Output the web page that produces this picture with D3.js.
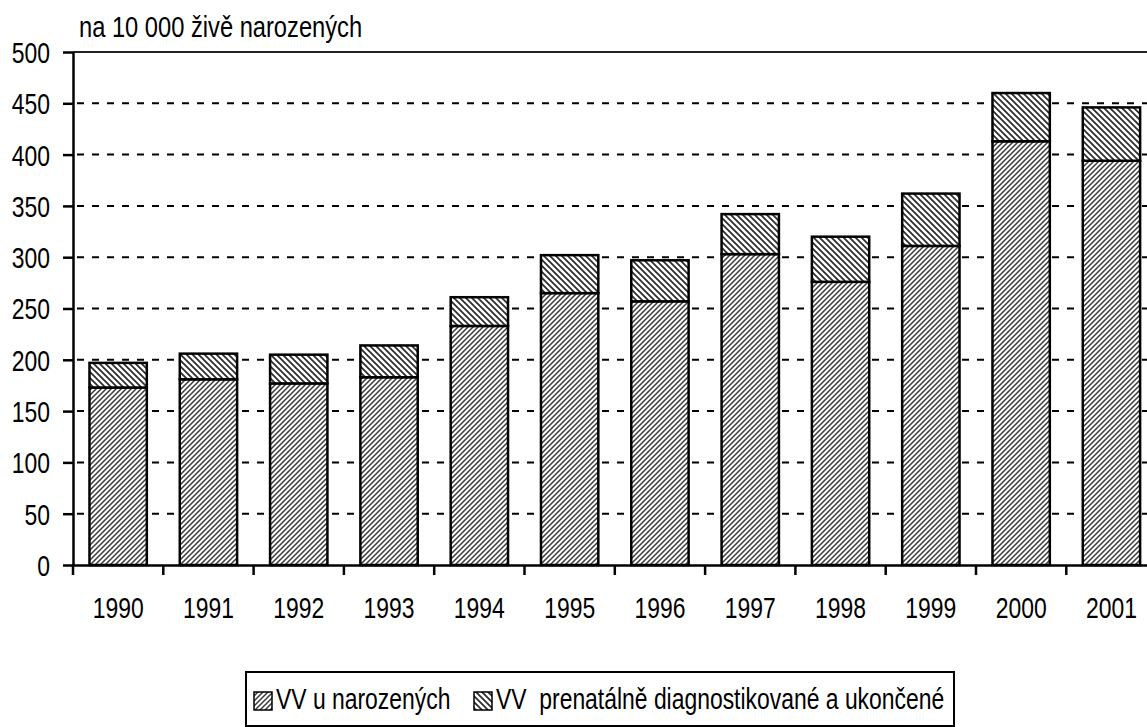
<!DOCTYPE html>
<html>
<head>
<meta charset="utf-8">
<script src="https://cdn.jsdelivr.net/npm/d3@7"></script>
<style>
  body { margin: 0; background: #fff; }
  svg { display: block; }
  text { font-family: "Liberation Sans", Arial, sans-serif; fill: #000; }
</style>
</head>
<body>
<div id="chart"></div>
<script>
// data
var years = ["1990", "1991", "1992", "1993", "1994", "1995", "1996", "1997", "1998", "1999", "2000", "2001"];
var bornValues = [173, 181, 177, 183, 233, 265, 257, 303, 276, 311, 413, 394];
var prenatalValues = [24, 25, 28, 31, 28, 37, 40, 39, 44, 51, 47, 52];
var yTicks = [0, 50, 100, 150, 200, 250, 300, 350, 400, 450, 500];
var seriesNames = ["VV u narozených", "VV  prenatálně diagnostikované a ukončené"];
var unitLabel = "na 10 000 živě narozených";

var width = 1147, height = 727;
var fontSize = 29, sx = 0.79;   // text in the original is horizontally squeezed

var svg = d3.select("#chart")
    .append("svg")
    .attr("width", width)
    .attr("height", height);

// hatch patterns
var defs = svg.append("defs");
var pLow = defs.append("pattern")
    .attr("id", "hatchLow")
    .attr("patternUnits", "userSpaceOnUse")
    .attr("width", 5)
    .attr("height", 5);
pLow.append("rect").attr("width", 5).attr("height", 5).attr("fill", "#fff");
pLow.append("path")
    .attr("d", "M-1,1 l2,-2 M0,5 l5,-5 M4,6 l2,-2")
    .attr("stroke", "#3a3a3a")
    .attr("stroke-width", 1.5);

var pHigh = defs.append("pattern")
    .attr("id", "hatchHigh")
    .attr("patternUnits", "userSpaceOnUse")
    .attr("width", 6)
    .attr("height", 6);
pHigh.append("rect").attr("width", 6).attr("height", 6).attr("fill", "#fff");
pHigh.append("path")
    .attr("d", "M0,0 l6,6 M-1,5 l2,2 M5,-1 l2,2")
    .attr("stroke", "#2a2a2a")
    .attr("stroke-width", 1.7);

var plotLeft = 73, plotBottom = 565, plotTop = 52;
var step = 90.3;

var x = d3.scaleBand()
    .domain(years)
    .range([plotLeft, plotLeft + step * years.length])
    .paddingInner(0.365)
    .paddingOuter(0.1825);

var y = d3.scaleLinear()
    .domain([0, 500])
    .range([plotBottom, plotTop]);

// gridlines
svg.append("g")
    .selectAll("line")
    .data(yTicks.filter(function (d) { return d > 0 && d < 500; }))
    .enter()
    .append("line")
    .attr("x1", plotLeft + 4)
    .attr("x2", width)
    .attr("y1", function (d) { return y(d); })
    .attr("y2", function (d) { return y(d); })
    .attr("stroke", "#000")
    .attr("stroke-width", 2)
    .attr("stroke-dasharray", "7,8");

// top border of plot area
svg.append("line")
    .attr("x1", plotLeft)
    .attr("x2", width)
    .attr("y1", y(500))
    .attr("y2", y(500))
    .attr("stroke", "#222")
    .attr("stroke-width", 2);

// stacked bars
var rows = years.map(function (yr, i) {
    return {year: yr, low: bornValues[i], high: prenatalValues[i]};
});

var bars = svg.append("g").selectAll("g")
    .data(rows)
    .enter()
    .append("g");

bars.append("rect")
    .attr("x", function (d) { return x(d.year); })
    .attr("width", x.bandwidth())
    .attr("y", function (d) { return y(d.low); })
    .attr("height", function (d) { return y(0) - y(d.low); })
    .attr("fill", "url(#hatchLow)")
    .attr("stroke", "#000")
    .attr("stroke-width", 2.5);

bars.append("rect")
    .attr("x", function (d) { return x(d.year); })
    .attr("width", x.bandwidth())
    .attr("y", function (d) { return y(d.low + d.high); })
    .attr("height", function (d) { return y(d.low) - y(d.low + d.high); })
    .attr("fill", "url(#hatchHigh)")
    .attr("stroke", "#000")
    .attr("stroke-width", 2.5);

// y axis
var yAxis = d3.axisLeft(y)
    .tickValues(yTicks)
    .tickSize(10)
    .tickSizeOuter(0);

var gy = svg.append("g")
    .attr("transform", "translate(" + plotLeft + ",0)")
    .call(yAxis);
gy.select(".domain").attr("stroke", "#000").attr("stroke-width", 2.5);
gy.selectAll(".tick line").attr("stroke", "#000").attr("stroke-width", 2.5);
gy.selectAll(".tick text")
    .attr("x", -23 / sx)
    .attr("dy", "0.36em")
    .attr("transform", "scale(" + sx + ",1)")
    .style("font-size", fontSize + "px")
    .style("font-family", "'Liberation Sans', Arial, sans-serif");

// x axis (labels centred on bars, ticks between them)
var xAxis = d3.axisBottom(x)
    .tickSize(0)
    .tickSizeOuter(0);

var gx = svg.append("g")
    .attr("transform", "translate(0," + plotBottom + ")")
    .call(xAxis);
gx.select(".domain").attr("stroke", "#000").attr("stroke-width", 2.5);
gx.selectAll(".tick text")
    .attr("y", 53)
    .attr("dy", 0)
    .attr("transform", "scale(" + sx + ",1)")
    .style("font-size", fontSize + "px")
    .style("font-family", "'Liberation Sans', Arial, sans-serif");

var sepX = years.map(function (yr) { return x(yr) - x.step() * x.paddingOuter(); });
gx.selectAll(".sep")
    .data(sepX)
    .enter()
    .append("line")
    .attr("class", "sep")
    .attr("x1", function (d) { return d; })
    .attr("x2", function (d) { return d; })
    .attr("y1", 0)
    .attr("y2", 10)
    .attr("stroke", "#000")
    .attr("stroke-width", 2.5);

// unit label
svg.append("text")
    .attr("transform", "translate(79,37) scale(" + sx + ",1)")
    .style("font-size", "30px")
    .text(unitLabel);

// legend
var lg = svg.append("g");
lg.append("rect")
    .attr("x", 246)
    .attr("y", 672)
    .attr("width", 708)
    .attr("height", 54)
    .attr("fill", "#fff")
    .attr("stroke", "#000")
    .attr("stroke-width", 2);

var legendItems = [
    {name: seriesNames[0], fill: "url(#hatchLow)", x: 254},
    {name: seriesNames[1], fill: "url(#hatchHigh)", x: 474}
];

var li = lg.selectAll("g.item")
    .data(legendItems)
    .enter()
    .append("g")
    .attr("class", "item");

li.append("rect")
    .attr("x", function (d) { return d.x; })
    .attr("y", 692)
    .attr("width", 18)
    .attr("height", 18)
    .attr("fill", function (d) { return d.fill; })
    .attr("stroke", "#000")
    .attr("stroke-width", 1.5);

li.append("text")
    .attr("transform", function (d) { return "translate(" + (d.x + 22) + ",709) scale(" + sx + ",1)"; })
    .style("font-size", fontSize + "px")
    .style("white-space", "pre")
    .text(function (d) { return d.name; });
</script>
</body>
</html>
